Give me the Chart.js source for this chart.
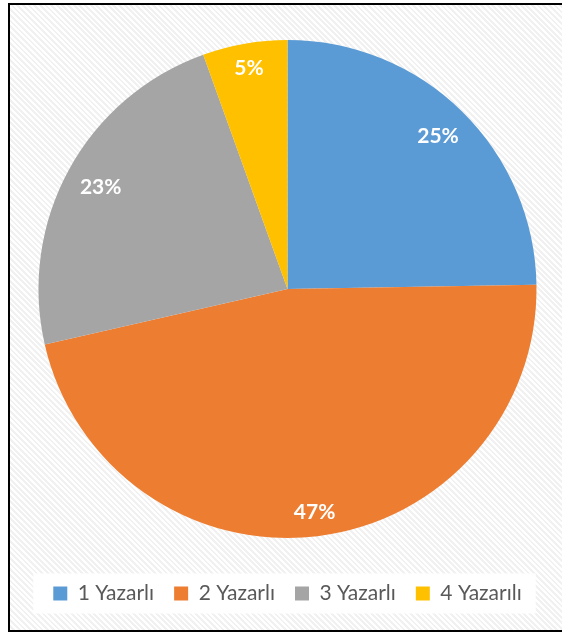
<!DOCTYPE html>
<html>
<head>
<meta charset="utf-8">
<script src="https://cdn.jsdelivr.net/npm/chart.js@4.4.1/dist/chart.umd.min.js"></script>
<style>
  html, body { margin: 0; padding: 0; width: 562px; height: 633px; overflow: hidden; background: #fff; }
  #frame {
    position: absolute; left: 8px; top: 3px; width: 600px; height: 625px;
    border: 2px solid #000;
    background: repeating-linear-gradient(45deg, #ffffff 0px, #ffffff 2px, #f1f1f1 2px, #f1f1f1 4px);
  }
  #wrap { position: absolute; left: 0; top: 0; width: 562px; height: 633px; }
</style>
</head>
<body>
<div id="frame"></div>
<div id="wrap"><canvas id="pieChart"></canvas></div>
<script>
// --- data ---
const categories = ["1 Yazarlı", "2 Yazarlı", "3 Yazarlı", "4 Yazarılı"];
const counts = [45, 85, 42, 10];
const sliceColors = ["#5B9BD5", "#ED7D31", "#A5A5A5", "#FFC000"];

const total = counts.reduce((a, b) => a + b, 0);

// white box behind the legend
const legendBox = {
  id: "legendBox",
  beforeDraw(chart) {
    const boxes = chart.legend && chart.legend.legendHitBoxes;
    if (!boxes || !boxes.length) return;
    const first = boxes[0], last = boxes[boxes.length - 1];
    const cy = first.top + first.height / 2;
    const ctx = chart.ctx;
    ctx.save();
    ctx.fillStyle = "#ffffff";
    ctx.fillRect(first.left - 20, cy - 20, last.left + last.width - first.left + 34, 40);
    ctx.restore();
  },
};

// percent labels, placed inside the outer end of each slice
const pctLabels = {
  id: "pctLabels",
  afterDatasetsDraw(chart) {
    const ctx = chart.ctx;
    const meta = chart.getDatasetMeta(0);
    ctx.save();
    ctx.font = "bold 21px Lato";
    ctx.fillStyle = "#ffffff";
    ctx.textAlign = "center";
    ctx.textBaseline = "middle";
    meta.data.forEach((arc, i) => {
      const p = arc.getProps(["x", "y", "startAngle", "endAngle", "outerRadius"], true);
      const mid = (p.startAngle + p.endAngle) / 2;
      const txt = Math.round((counts[i] / total) * 100) + "%";
      const w = ctx.measureText(txt).width;
      const h = 16;
      const ext = (w / 2) * Math.abs(Math.cos(mid)) + (h / 2) * Math.abs(Math.sin(mid));
      const d = p.outerRadius - 14 - ext;
      ctx.fillText(txt, p.x + Math.cos(mid) * d, p.y + Math.sin(mid) * d);
    });
    ctx.restore();
  },
};

const ctx = document.getElementById("pieChart").getContext("2d");
new Chart(ctx, {
  type: "pie",
  data: {
    labels: categories,
    datasets: [
      {
        data: counts,
        backgroundColor: sliceColors,
        borderWidth: 0,
      },
    ],
  },
  options: {
    responsive: true,
    maintainAspectRatio: false,
    animation: false,
    radius: 249,
    layout: { padding: { left: 13, right: 0, top: 15, bottom: 19 } },
    plugins: {
      tooltip: { enabled: false },
      legend: {
        position: "bottom",
        labels: {
          boxWidth: 14,
          boxHeight: 14,
          padding: 20,
          color: "#595959",
          font: { family: "Lato", size: 21 },
        },
      },
    },
  },
  plugins: [legendBox, pctLabels],
});
</script>
</body>
</html>
